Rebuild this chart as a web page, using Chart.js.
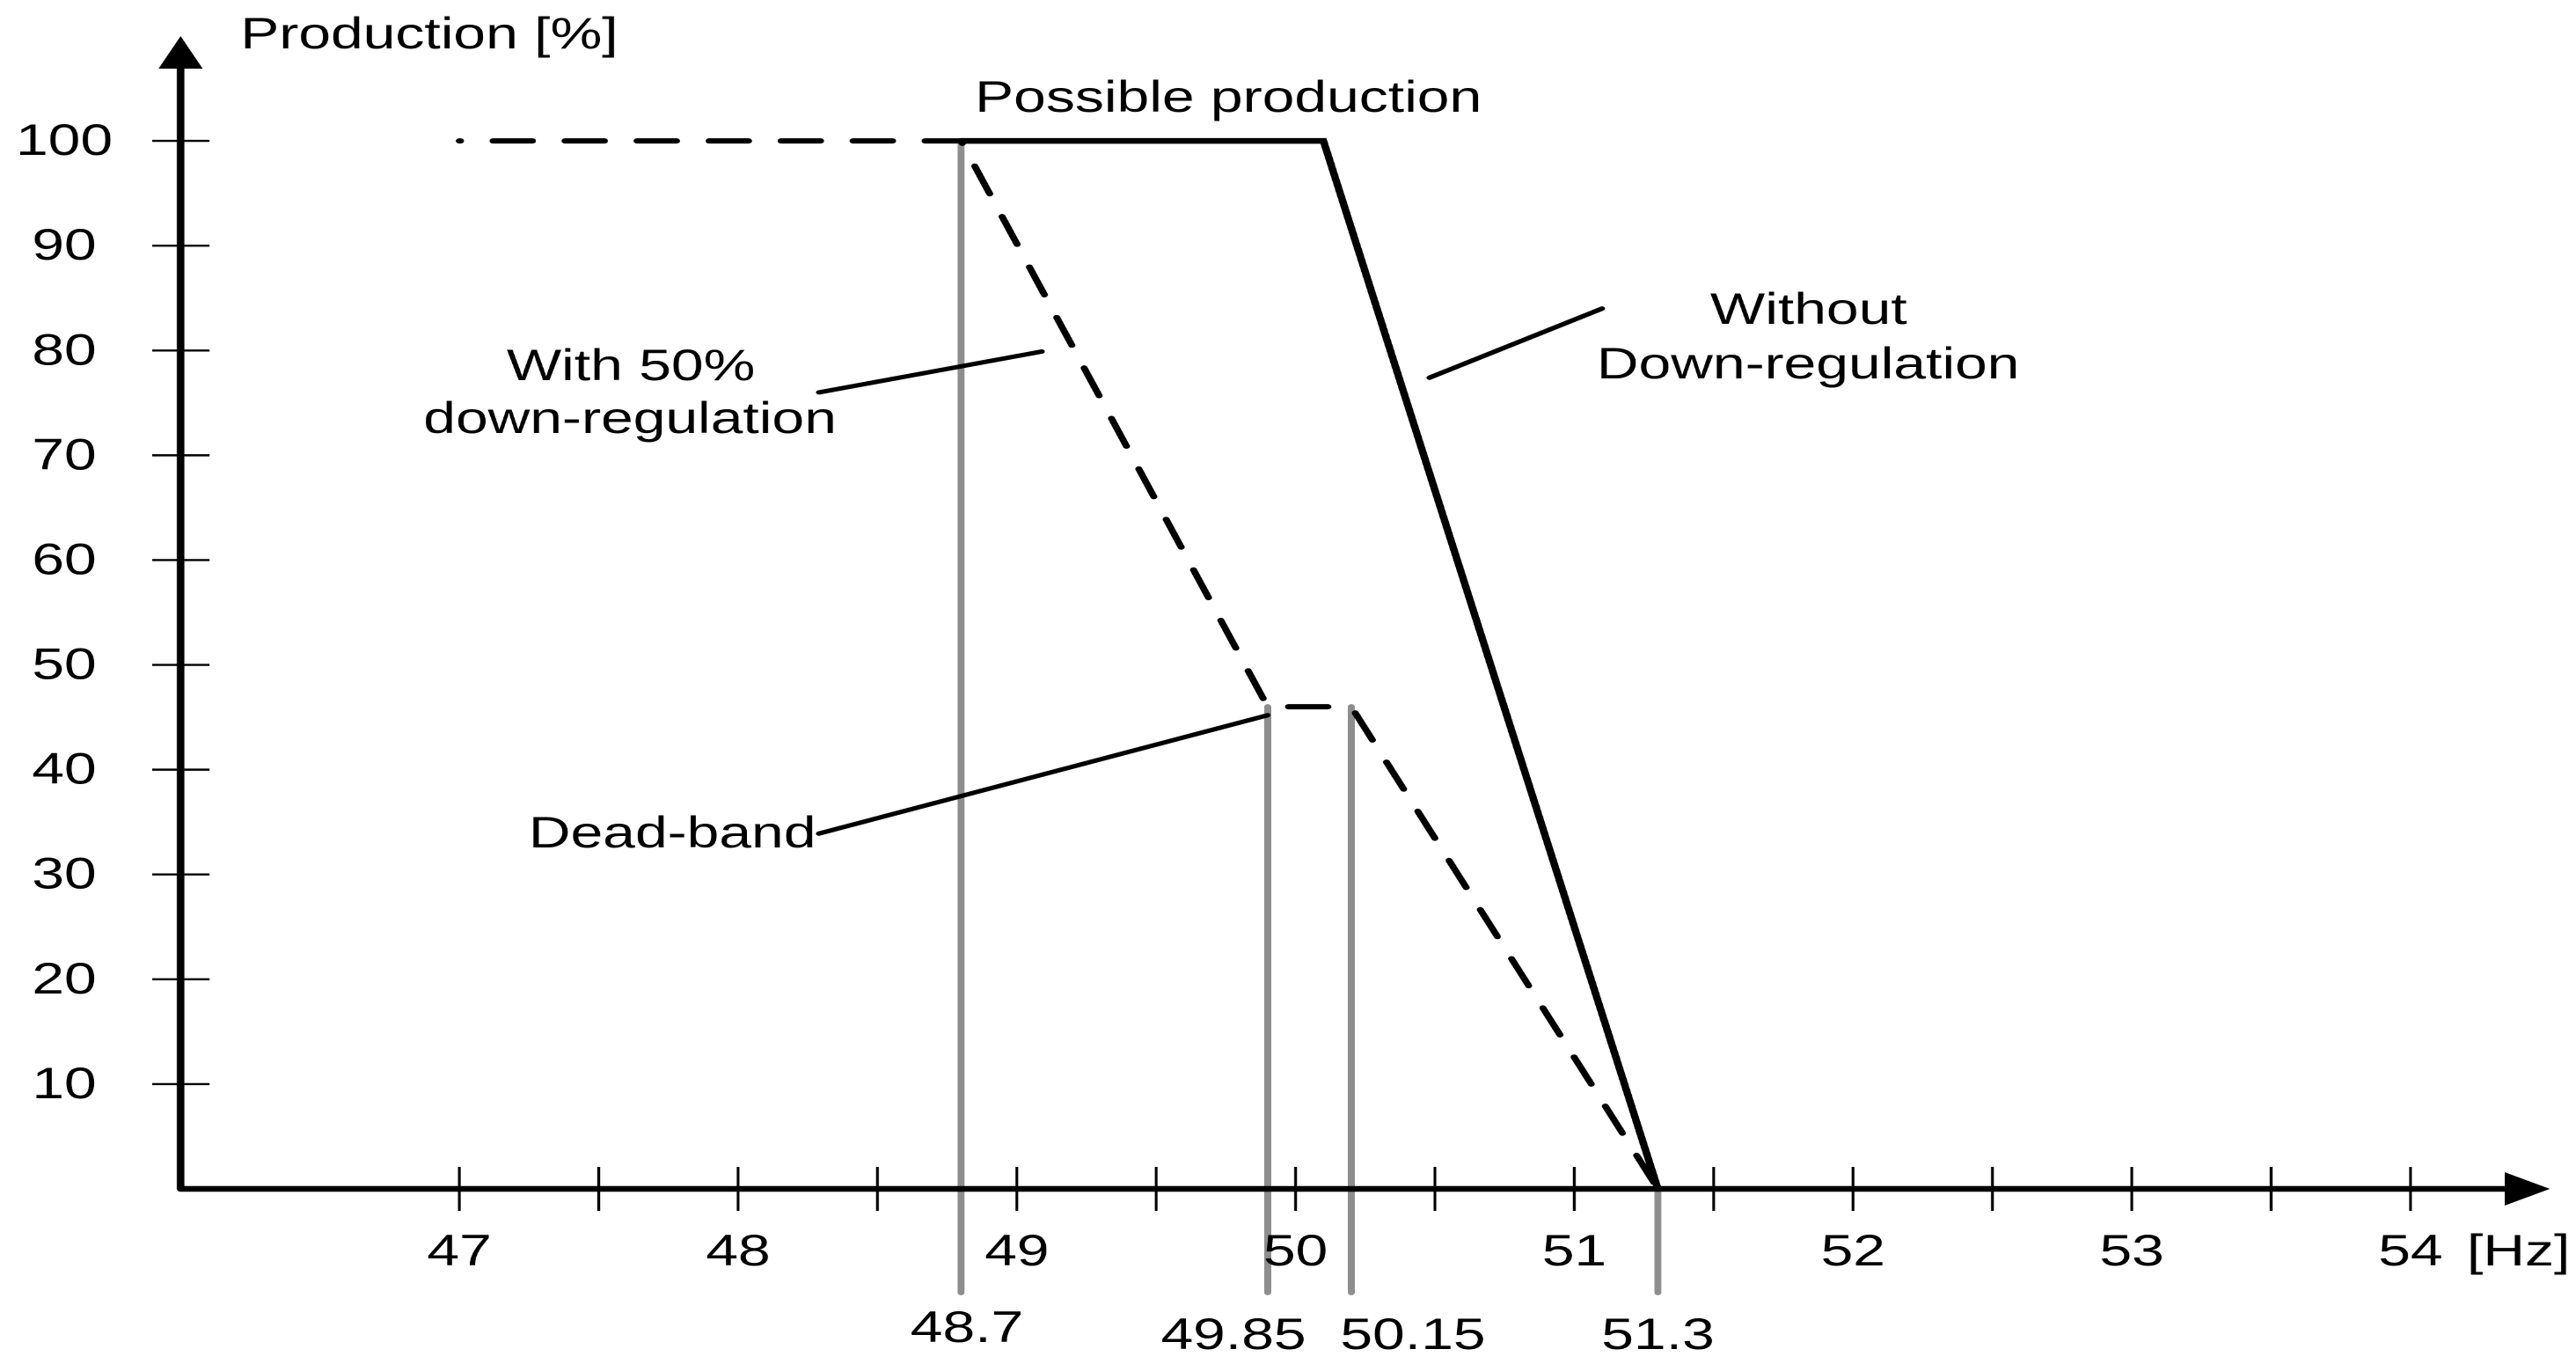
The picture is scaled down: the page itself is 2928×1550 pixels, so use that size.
<!DOCTYPE html>
<html><head><meta charset="utf-8">
<script src="https://cdn.jsdelivr.net/npm/chart.js@4.4.1/dist/chart.umd.min.js"></script>
<style>
html,body{margin:0;padding:0;background:#fff;overflow:hidden}
#c{display:block}
</style>
</head><body>
<canvas id="c" width="2218" height="1550" style="width:2928px;height:1550px"></canvas>
<script>
// ---- data ----
const freqMajorTicks = [47, 48, 49, 50, 51, 52, 53, 54];
const freqMinorTicks = [47.5, 48.5, 49.5, 50.5, 51.5, 52.5, 53.5];
const prodTicks = [10, 20, 30, 40, 50, 60, 70, 80, 90, 100];

const withoutFreq = [48.8, 50.1, 51.3];
const withoutProd = [100, 100, 0];

const withFreq = [47, 48.8, 49.9, 50.2, 51.3];
const withProd = [100, 100, 46, 46, 0];

const markerFreq = [48.8, 49.9, 50.2, 51.3];
const markerTop = [100, 46, 46, 0];
const markerBottom = -9.9;
const markerLabels = ['48.7', '49.85', '50.15', '51.3'];

const leaderWithFreq = [48.29, 49.09];
const leaderWithProd = [76.0, 79.9];
const leaderWithoutFreq = [50.48, 51.10];
const leaderWithoutProd = [77.4, 84.0];
const leaderDeadFreq = [48.29, 49.9];
const leaderDeadProd = [33.9, 45.2];

const annotationTexts = ['Possible production', 'With 50%', 'down-regulation', 'Without', 'Down-regulation', 'Dead-band'];
const yAxisTitle = 'Production [%]';
const xAxisUnit = '[Hz]';

// ---- layout / style ----
const FONT = '50px "Liberation Sans", Arial, Helvetica, sans-serif';
const annotationPos = [[1057.6, 127], [543.2, 432], [542.4, 492], [1557.3, 368], [1556.8, 430], [578.8, 963]];
const markerLabelDx = [5, -29.5, 53, 0];
const markerLabelY = [1525, 1533, 1533, 1533];

const pts = (xs, ys) => xs.map((v, i) => ({x: v, y: ys[i]}));

const datasets = [
  {data: pts(withoutFreq, withoutProd), borderColor: '#000', borderWidth: 6.5, borderJoinStyle: 'miter', borderCapStyle: 'round', clip: false},
  {data: pts(withFreq, withProd), borderColor: '#000', borderWidth: 6, borderDash: [34, 28], borderDashOffset: 33, borderCapStyle: 'round', borderJoinStyle: 'round', clip: false},
  {data: pts(leaderWithFreq, leaderWithProd), borderColor: '#000', borderWidth: 5, borderCapStyle: 'round', clip: false},
  {data: pts(leaderWithoutFreq, leaderWithoutProd), borderColor: '#000', borderWidth: 5, borderCapStyle: 'round', clip: false},
  {data: pts(leaderDeadFreq, leaderDeadProd), borderColor: '#000', borderWidth: 5, borderCapStyle: 'round', clip: false}
];
markerFreq.forEach((f, i) => {
  datasets.push({data: [{x: f, y: markerTop[i]}, {x: f, y: markerBottom}], borderColor: '#8e8e8e', borderWidth: 6, borderCapStyle: 'round', clip: false});
});

const axesPlugin = {
  id: 'customAxes',
  afterDatasetsDraw(chart) {
    const {ctx} = chart;
    const x = chart.scales.x, y = chart.scales.y;
    const x0 = x.getPixelForValue(x.min), y0 = y.getPixelForValue(0);
    const xEnd = x.getPixelForValue(x.max), yEnd = y.getPixelForValue(y.max);
    ctx.save();
    ctx.strokeStyle = '#000';
    ctx.fillStyle = '#000';
    // tick marks
    ctx.lineWidth = 2.4;
    ctx.lineCap = 'butt';
    ctx.beginPath();
    freqMajorTicks.concat(freqMinorTicks).forEach(v => {
      const px = x.getPixelForValue(v);
      ctx.moveTo(px, y0 - 25); ctx.lineTo(px, y0 + 25);
    });
    prodTicks.forEach(v => {
      const py = y.getPixelForValue(v);
      ctx.moveTo(x0 - 24.5, py); ctx.lineTo(x0 + 25, py);
    });
    ctx.stroke();
    // axis lines
    ctx.lineWidth = 6.5;
    ctx.lineJoin = 'round';
    ctx.beginPath();
    ctx.moveTo(x0, yEnd + 30);
    ctx.lineTo(x0, y0);
    ctx.lineTo(xEnd - 30, y0);
    ctx.stroke();
    // arrow heads
    ctx.beginPath();
    ctx.moveTo(x0, yEnd); ctx.lineTo(x0 - 19, yEnd + 37); ctx.lineTo(x0 + 19, yEnd + 37); ctx.closePath(); ctx.fill();
    ctx.beginPath();
    ctx.moveTo(xEnd, y0); ctx.lineTo(xEnd - 39, y0 - 19); ctx.lineTo(xEnd - 39, y0 + 19); ctx.closePath(); ctx.fill();

    // texts
    ctx.font = FONT;
    ctx.textBaseline = 'alphabetic';
    ctx.textAlign = 'center';
    freqMajorTicks.forEach(v => ctx.fillText(String(v), x.getPixelForValue(v), 1438));
    prodTicks.forEach(v => ctx.fillText(String(v), 55.3, y.getPixelForValue(v) + 16));
    markerFreq.forEach((f, i) => ctx.fillText(markerLabels[i], x.getPixelForValue(f) + markerLabelDx[i], markerLabelY[i]));
    annotationTexts.forEach((t, i) => ctx.fillText(t, annotationPos[i][0], annotationPos[i][1]));
    ctx.textAlign = 'left';
    ctx.fillText(yAxisTitle, 207, 55);
    ctx.fillText(xAxisUnit, 2124, 1438);
    ctx.restore();
  }
};

new Chart(document.getElementById('c'), {
  type: 'line',
  data: {datasets},
  options: {
    responsive: false,
    devicePixelRatio: 2,
    animation: false,
    layout: {padding: {left: 155.5, right: 22.5, top: 41, bottom: 199}},
    elements: {point: {radius: 0, hoverRadius: 0}, line: {tension: 0}},
    plugins: {legend: {display: false}, tooltip: {enabled: false}},
    events: [],
    scales: {
      x: {type: 'linear', min: 46, max: 54.5, display: false},
      y: {type: 'linear', min: 0, max: 110, display: false}
    }
  },
  plugins: [axesPlugin]
});
</script>
</body></html>
